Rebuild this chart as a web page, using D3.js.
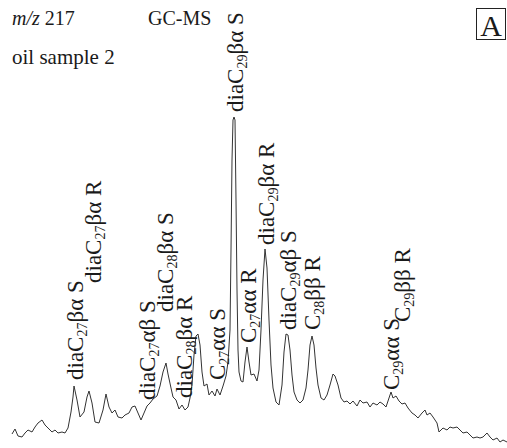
<!DOCTYPE html>
<html>
<head>
<meta charset="utf-8">
<script src="https://cdn.jsdelivr.net/npm/d3@7/dist/d3.min.js"></script>
<style>
  html, body { margin: 0; padding: 0; background: #fff; }
  svg { display: block; }
  text { font-family: "Liberation Serif", "Times New Roman", serif; fill: #1a1a1a; }
</style>
</head>
<body>
<svg id="chart" width="507" height="448"></svg>
<script>
// m/z 217 mass chromatogram (steranes / diasteranes), oil sample 2
// scan position along the run
const scan = [
  12, 15, 18, 22, 25, 28, 32, 35, 38, 42, 45, 48, 52, 55, 58, 62, 65, 68, 71, 73,
  74, 77, 80, 84, 87, 89, 92, 95, 99, 103, 106, 109, 112, 115, 118, 122, 125, 129, 132, 135,
  138, 141, 144, 147, 150, 153, 157, 160, 163, 166, 168, 171, 173, 176, 179, 182, 185, 188, 190, 192,
  194, 196, 198, 200, 202, 204, 207, 209, 212, 215, 217, 220, 223, 226, 228, 230, 231, 232, 233, 234,
  235, 236, 237, 238, 239, 241, 243, 245, 247, 249, 251, 254, 257, 259, 261, 263, 265, 267, 269, 271,
  273, 276, 279, 282, 284, 286, 288, 290, 292, 294, 297, 300, 303, 306, 308, 310, 312, 314, 316, 318,
  321, 324, 327, 330, 333, 335, 338, 341, 344, 347, 350, 353, 357, 360, 363, 367, 370, 373, 377, 380,
  383, 386, 389, 391, 393, 396, 399, 402, 405, 408, 412, 415, 418, 422, 425, 427, 430, 433, 437, 439,
  443, 447, 450, 453, 457, 460, 463, 467, 470, 473, 477, 480, 483, 487, 490, 493, 497, 500, 503, 507
];
// detector response (arbitrary abundance units)
const abundance = [
  11, 16, 9, 8, 12, 15, 13, 18, 22, 25, 20, 17, 13, 15, 12, 13, 12, 17, 33, 48,
  59, 45, 28, 33, 48, 54, 42, 23, 22, 35, 51, 38, 32, 35, 28, 27, 30, 32, 38, 39,
  32, 25, 32, 39, 42, 46, 49, 59, 73, 82, 71, 57, 48, 45, 36, 40, 35, 38, 47, 60,
  90, 109, 111, 100, 73, 59, 61, 50, 54, 49, 56, 50, 59, 69, 83, 115, 195, 285, 325, 328,
  325, 245, 155, 95, 73, 64, 63, 83, 98, 83, 70, 71, 64, 75, 115, 165, 196, 177, 125, 80,
  57, 43, 40, 60, 93, 111, 110, 95, 70, 53, 45, 42, 45, 57, 75, 100, 109, 100, 77, 60,
  47, 45, 50, 60, 71, 69, 60, 47, 43, 44, 41, 44, 39, 45, 42, 43, 38, 42, 40, 43,
  41, 38, 47, 53, 47, 49, 44, 41, 42, 37, 32, 30, 27, 32, 35, 30, 32, 28, 22, 13,
  17, 15, 18, 17, 18, 15, 12, 13, 10, 7, 8, 7, 8, 12, 8, 5, 7, 3, 5, 3
];

// peak assignments: prefix, carbon number, configuration, epimer
const peakPrefix = ["dia", "dia", "dia", "dia", "dia", "", "dia", "", "dia", "dia", "", "", ""];
const peakCarbon = ["27", "27", "27", "28", "28", "27", "29", "27", "29", "29", "28", "29", "29"];
const peakStereo = ["βα", "βα", "αβ", "βα", "βα", "αα", "βα", "αα", "βα", "αβ", "ββ", "αα", "ββ"];
const peakEpimer = ["S", "R", "S", "S", "R", "S", "S", "R", "R", "S", "R", "S", "R"];
// label anchor: scan of the label and abundance level where it starts
const labelScan  = [75, 93, 147, 165, 184, 217, 235, 248, 266, 288, 312, 391, 402];
const labelLevel = [65, 162, 45, 133, 47, 65, 333, 102, 200, 115, 115, 55, 123];

const svg = d3.select("#chart");

const x = d3.scaleLinear().domain([0, 507]).range([0, 507]);
const y = d3.scaleLinear().domain([0, d3.max(abundance)]).range([445, 117]);

const pts = scan.map((s, i) => [s, abundance[i]]);

svg.append("path")
  .datum(pts)
  .attr("fill", "none")
  .attr("stroke", "#333")
  .attr("stroke-width", 1)
  .attr("stroke-linejoin", "round")
  .attr("d", d3.line().x(d => x(d[0])).y(d => y(d[1])));

// rotated peak labels
const fs = 23, subFs = 14, subShift = 4;
peakPrefix.forEach((p, i) => {
  const t = svg.append("text")
    .attr("transform", `translate(${x(labelScan[i])},${y(labelLevel[i])}) rotate(-90)`)
    .attr("font-size", fs)
    .attr("dy", "0.35em");
  t.append("tspan").text(p + "C");
  t.append("tspan").attr("font-size", subFs).attr("dy", subShift).text(peakCarbon[i]);
  t.append("tspan").attr("dy", -subShift).text(peakStereo[i] + " " + peakEpimer[i]);
});

// header
const h1 = svg.append("text").attr("x", 12).attr("y", 25).attr("font-size", 20);
h1.append("tspan").attr("font-style", "italic").text("m/z");
h1.append("tspan").text(" 217");
svg.append("text").attr("x", 148).attr("y", 25).attr("font-size", 20).text("GC-MS");
svg.append("text").attr("x", 12).attr("y", 64).attr("font-size", 21).text("oil sample 2");

// panel letter
svg.append("rect").attr("x", 476.5).attr("y", 8.5).attr("width", 29).attr("height", 31)
  .attr("fill", "none").attr("stroke", "#222").attr("stroke-width", 1);
svg.append("text").attr("x", 491).attr("y", 36).attr("text-anchor", "middle")
  .attr("font-size", 30).text("A");
</script>
</body>
</html>
